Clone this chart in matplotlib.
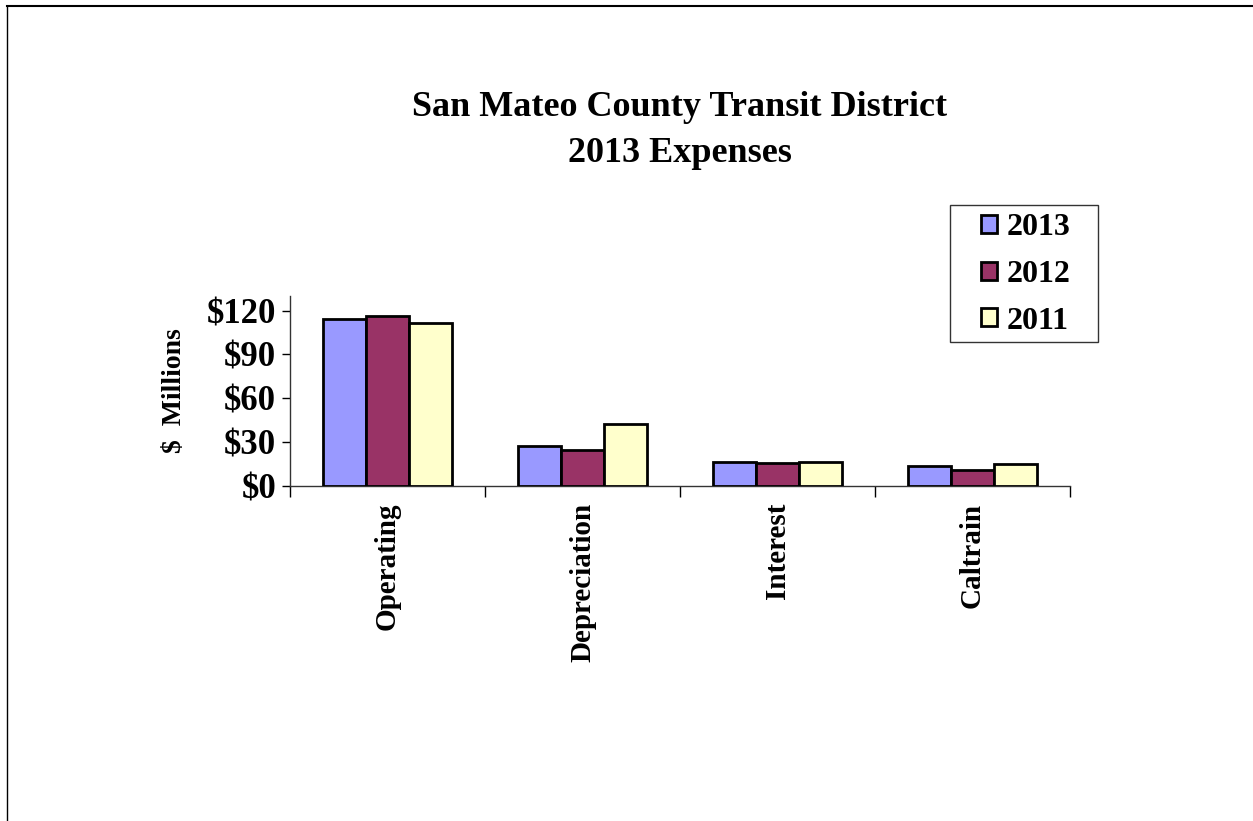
import numpy as np
import matplotlib.pyplot as plt
from matplotlib.patches import Rectangle

# data ($ millions)
categories = ['Operating', 'Depreciation', 'Interest', 'Caltrain']
years = ['2013', '2012', '2011']
vals_2013 = [114.5, 27.4, 16.7, 13.9]
vals_2012 = [116.0, 24.5, 16.0, 10.8]
vals_2011 = [111.8, 42.3, 16.7, 14.9]
colors = ['#9999FF', '#993366', '#FFFFCC']
yticks = [0, 30, 60, 90, 120]

plt.rcParams['font.family'] = ['Liberation Serif', 'DejaVu Serif']
plt.rcParams['font.weight'] = 'bold'

fig = plt.figure(figsize=(12.53, 8.21), dpi=100)
W, H = 1253, 821
ax = fig.add_axes([290 / W, 1 - 486 / H, 780 / W, (486 - 296) / H])

x = np.arange(len(categories))
w = 0.222
for i, (vals, c, lab) in enumerate(zip([vals_2013, vals_2012, vals_2011], colors, years)):
    ax.bar(x + (i - 1) * w, vals, w, color=c, edgecolor='black', linewidth=2, label=lab, zorder=3)

ax.set_xlim(-0.5, len(categories) - 0.5)
ax.set_ylim(0, 130)
ax.set_yticks(yticks)
ax.set_yticklabels(['$' + str(v) for v in yticks], fontsize=25, fontweight='bold')
ax.tick_params(axis='y', length=6, width=1, pad=4)

# category boundaries as major ticks, labels on minor ticks
ax.set_xticks(np.arange(len(categories) + 1) - 0.5)
ax.set_xticklabels([])
ax.tick_params(axis='x', which='major', length=8, width=1)
ax.set_xticks(x, minor=True)
ax.set_xticklabels(categories, minor=True, rotation=90, fontsize=21, fontweight='bold', va='top')
ax.tick_params(axis='x', which='minor', length=0, pad=12)

for s in ['top', 'right']:
    ax.spines[s].set_visible(False)
for s in ['left', 'bottom']:
    ax.spines[s].set_linewidth(1)
    ax.spines[s].set_color('#333333')

ax.set_ylabel('$  Millions', fontsize=20, fontweight='bold', labelpad=14)

fig.text(680 / W, 1 - 108 / H, 'San Mateo County Transit District', ha='center', va='center',
         fontsize=26, fontweight='bold')
fig.text(680 / W, 1 - 153 / H, '2013 Expenses', ha='center', va='center',
         fontsize=26, fontweight='bold')

# legend box drawn separately so the padding matches
fig.add_artist(Rectangle((950 / W, 1 - 342 / H), 148 / W, 137 / H, transform=fig.transFigure,
                         facecolor='white', edgecolor='#333333', linewidth=1))
leg = fig.legend(loc='upper left', bbox_to_anchor=(975 / W, 1 - 207 / H), frameon=False,
                 prop={'size': 23, 'weight': 'bold'},
                 handlelength=0.5, handleheight=0.5, handletextpad=0.3, labelspacing=0.55,
                 borderpad=0.2, borderaxespad=0)

# slide border lines
fig.add_artist(plt.Line2D([7 / W, 1], [1 - 6 / H, 1 - 6 / H], color='black', linewidth=1.5))
fig.add_artist(plt.Line2D([7 / W, 7 / W], [0, 1 - 6 / H], color='black', linewidth=1))

fig.savefig('out.png', dpi=100)
